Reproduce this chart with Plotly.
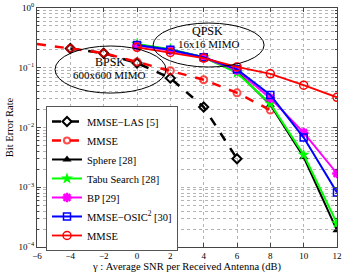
import plotly.graph_objects as go

# BPSK 600x600 MIMO
snr_bpsk = [-6, -4, -2, 0, 2, 4, 6, 8]
mmse_bpsk = [0.25, 0.21, 0.176, 0.125, 0.089, 0.063, 0.038, 0.0196]
snr_las = [-4, -2, 0, 2, 4, 6]
mmse_las = [0.21, 0.175, 0.12, 0.067, 0.022, 0.003]

# QPSK 16x16 MIMO
snr_qpsk = [0, 2, 4, 6, 8, 10, 12]
sphere = [0.245, 0.20, 0.15, 0.086, 0.024, 0.0032, 0.00019]
tabu = [0.25, 0.205, 0.15, 0.082, 0.025, 0.0035, 0.00025]
bp = [0.235, 0.195, 0.148, 0.091, 0.031, 0.0082, 0.0017]
osic = [0.24, 0.20, 0.15, 0.094, 0.035, 0.0068, 0.00082]
mmse_qpsk = [0.22, 0.18, 0.145, 0.103, 0.079, 0.051, 0.032]

x_ticks = [-6, -4, -2, 0, 2, 4, 6, 8, 10, 12]
decades = [0, -1, -2, -3, -4]

SERIF = "Liberation Serif"

fig = go.Figure()
fig.add_trace(go.Scatter(x=snr_las, y=mmse_las, name="MMSE\u2212LAS [5]",
                         mode="lines+markers",
                         line=dict(color="black", width=2.5, dash="dash"),
                         marker=dict(symbol="diamond-open", size=7, color="black",
                                     line=dict(width=2, color="black"))))
fig.add_trace(go.Scatter(x=snr_bpsk, y=mmse_bpsk, name="MMSE",
                         mode="lines+markers",
                         line=dict(color="#ff0000", width=2.5, dash="dash"),
                         marker=dict(symbol="circle-open", size=[0] + [7] * 7, color="#ff0000",
                                     line=dict(width=2, color="#ff0000"))))
fig.add_trace(go.Scatter(x=snr_qpsk, y=sphere, name="Sphere [28]",
                         mode="lines+markers",
                         line=dict(color="black", width=2),
                         marker=dict(symbol="triangle-up", size=8, color="black")))
fig.add_trace(go.Scatter(x=snr_qpsk, y=tabu, name="Tabu Search [28]",
                         mode="lines+markers",
                         line=dict(color="#00ff00", width=2),
                         marker=dict(symbol="star", size=9, color="#00ff00")))
fig.add_trace(go.Scatter(x=snr_qpsk, y=bp, name="BP [29]",
                         mode="lines+markers",
                         line=dict(color="#ff00ff", width=2),
                         marker=dict(symbol="asterisk-open", size=8, color="#ff00ff",
                                     line=dict(width=2.5, color="#ff00ff"))))
fig.add_trace(go.Scatter(x=snr_qpsk, y=osic, name="MMSE\u2212OSIC<sup>2</sup> [30]",
                         mode="lines+markers",
                         line=dict(color="#0000ff", width=2),
                         marker=dict(symbol="square-open", size=7, color="#0000ff",
                                     line=dict(width=1.5, color="#0000ff"))))
fig.add_trace(go.Scatter(x=snr_qpsk, y=mmse_qpsk, name="MMSE",
                         mode="lines+markers",
                         line=dict(color="#ff0000", width=1.8),
                         marker=dict(symbol="circle-open", size=8, color="#ff0000",
                                     line=dict(width=1.5, color="#ff0000"))))

y_major = [10 ** d for d in decades]
y_major_text = ["10<sup>%s</sup>" % (str(d) if d >= 0 else "\u2212" + str(-d)) for d in decades]
y_minor = [m * 10 ** d for d in decades[1:] for m in range(2, 10)]

grid_color = "#b4b4b4"


def label(text, x, y, size):
    return dict(text=text, x=x, y=y, xref="paper", yref="paper", showarrow=False,
                xanchor="center", yanchor="middle", font=dict(family=SERIF, size=size))


fig.update_layout(
    width=347, height=280,
    margin=dict(l=37, r=10, t=8, b=33),
    paper_bgcolor="white", plot_bgcolor="white",
    font=dict(family=SERIF, size=10, color="black"),
    showlegend=True,
    legend=dict(x=0.03, y=0.59, xanchor="left", yanchor="top",
                bgcolor="white", bordercolor="#555555", borderwidth=1,
                font=dict(family=SERIF, size=10.5), tracegroupgap=0,
                itemwidth=30),
    xaxis=dict(range=[-6, 12], tickvals=x_ticks, automargin=False,
               ticktext=[("\u2212%d" % -t) if t < 0 else str(t) for t in x_ticks],
               showgrid=True, gridcolor=grid_color, griddash="dot", gridwidth=1,
               ticks="inside", ticklen=4, tickcolor="#444",
               showline=True, linecolor="#444", mirror="ticks", linewidth=1,
               zeroline=False,
               tickfont=dict(family=SERIF, size=9),
               title=dict(text="\u03b3 : Average SNR per Received Antenna (dB)",
                          font=dict(family=SERIF, size=10.5), standoff=2)),
    yaxis=dict(type="log", range=[-4, 0], tickvals=y_major, ticktext=y_major_text,
               automargin=False,
               showgrid=True, gridcolor=grid_color, griddash="dot", gridwidth=1,
               ticks="inside", ticklen=4, tickcolor="#444",
               showline=True, linecolor="#444", mirror="ticks", linewidth=1,
               zeroline=False,
               minor=dict(tickmode="array", tickvals=y_minor, ticks="inside", ticklen=2,
                          tickcolor="#444", showgrid=True, gridcolor=grid_color,
                          griddash="dot", gridwidth=1),
               tickfont=dict(family=SERIF, size=9),
               title=dict(text="Bit Error Rate", font=dict(family=SERIF, size=10.5),
                          standoff=2)),
    shapes=[
        dict(type="circle", xref="paper", yref="paper", x0=0.06, x1=0.43, y0=0.644, y1=0.841,
             line=dict(color="black", width=1), layer="above"),
        dict(type="circle", xref="paper", yref="paper", x0=0.387, x1=0.757, y0=0.753, y1=0.937,
             line=dict(color="black", width=1), layer="above"),
    ],
    annotations=[
        label("BPSK", 0.243, 0.776, 12),
        label("600x600 MIMO", 0.240, 0.720, 11),
        label("QPSK", 0.57, 0.903, 12),
        label("16x16 MIMO", 0.573, 0.851, 11),
    ],
)

fig.write_html("out.html", config={"displayModeBar": False},
               post_script="document.body.style.margin='0';")
